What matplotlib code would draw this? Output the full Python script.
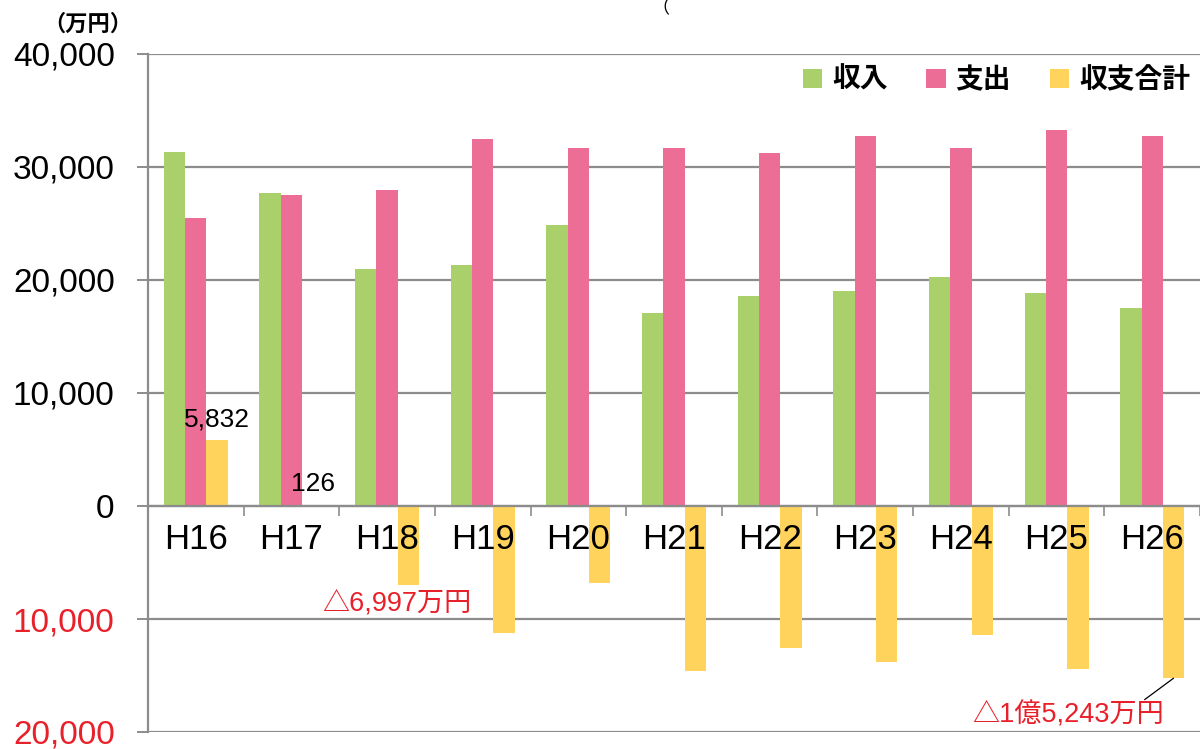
import numpy as np
import matplotlib
matplotlib.use("Agg")
import matplotlib.pyplot as plt
from matplotlib.ticker import FuncFormatter, FixedLocator

YEARS = ["H16", "H17", "H18", "H19", "H20", "H21", "H22", "H23", "H24", "H25", "H26"]
INCOME = [31300, 27680, 21010, 21300, 24870, 17120, 18620, 19000, 20270, 18820, 17520]
EXPENSE = [25468, 27554, 28007, 32520, 31650, 31680, 31230, 32770, 31670, 33280, 32763]
BALANCE = [5832, 126, -6997, -11220, -6780, -14560, -12610, -13770, -11400, -14460, -15243]
SERIES = ["収入", "支出", "収支合計"]
COLORS = ["#AAD06C", "#EC6D96", "#FFD35C"]
RED = "#E8202A"
GRID = "#8C8C8C"

LATIN = ["Liberation Sans", "Noto Sans CJK JP", "DejaVu Sans"]
CJK = ["Noto Sans CJK JP", "DejaVu Sans"]


def fmt(v, pos):
    return "{:,}".format(int(abs(round(v))))


def main():
    plt.rcParams["font.family"] = LATIN
    fig = plt.figure(figsize=(12, 7.49), dpi=100)
    ax = fig.add_axes([148 / 1200, 17 / 749, 1052 / 1200, 678 / 749])

    x = np.arange(len(YEARS))
    w = 0.223
    bars = []
    for i, vals in enumerate((INCOME, EXPENSE, BALANCE)):
        b = ax.bar(x + (i - 1) * w, vals, w, color=COLORS[i], label=SERIES[i],
                   zorder=2, linewidth=0)
        bars.append(b)

    ax.set_xlim(-0.5, len(YEARS) - 0.5)
    ax.set_ylim(-20000, 40000)
    ax.set_yticks(np.arange(-20000, 40001, 10000))
    ax.yaxis.set_major_formatter(FuncFormatter(fmt))
    ax.grid(True, axis="y", color=GRID, linewidth=1.6)
    ax.set_axisbelow(True)
    ax.xaxis.set_zorder(5)   # category labels sit on top of the bars

    for s in ("top", "right"):
        ax.spines[s].set_visible(False)
    ax.spines["left"].set_color(GRID)
    ax.spines["left"].set_linewidth(1.6)
    ax.spines["bottom"].set_position(("data", 0))
    ax.spines["bottom"].set_color(GRID)
    ax.spines["bottom"].set_linewidth(1.6)
    ax.spines["bottom"].set_zorder(3)

    ax.tick_params(axis="y", direction="out", length=8, width=1.4, color=GRID,
                   labelsize=24, pad=16)
    for lab, v in zip(ax.get_yticklabels(), ax.get_yticks()):
        lab.set_color(RED if v < 0 else "black")

    ax.set_xticks(x)
    ax.set_xticklabels(YEARS)
    ax.tick_params(axis="x", which="major", length=0, labelsize=25, pad=12)
    ax.xaxis.set_minor_locator(FixedLocator(np.arange(0.5, len(YEARS) - 0.4, 1)))
    ax.tick_params(axis="x", which="minor", direction="out", length=7, width=1.2,
                   color=GRID)

    # data labels
    ax.text(x[0] + w, BALANCE[0] + 800, "5,832", ha="center", va="bottom",
            fontsize=19)
    ax.text(x[1] + w, BALANCE[1] + 800, "126", ha="center", va="bottom",
            fontsize=19)
    ax.text(x[2] + 0.1, BALANCE[2] - 500, "△6,997万円", ha="center", va="top",
            fontsize=19.5, color=RED)
    ax.annotate("△1億5,243万円", xy=(x[10] + w, BALANCE[10]),
                xytext=(x[10] - 0.88, BALANCE[10] - 3300), ha="center",
                va="center", fontsize=19.5, color=RED,
                arrowprops=dict(arrowstyle="-", color="black", lw=0.9,
                                shrinkA=0, shrinkB=0, relpos=(0.88, 1.0)))

    fig.text(88 / 1200, 1 - 24 / 749, "（万円）", ha="center", va="center",
             fontsize=16, fontweight="bold", family=CJK)
    fig.text(660 / 1200, 1 - 8 / 749, "（", ha="center", va="center",
             fontsize=13, family=CJK)

    ax.legend(handles=bars, loc="center right", ncol=3, frameon=False,
              bbox_to_anchor=(1190 / 1200, 1 - 80 / 749),
              bbox_transform=fig.transFigure, handlelength=0.7,
              handleheight=0.7, handletextpad=0.35, columnspacing=1.4,
              borderpad=0, borderaxespad=0,
              prop=dict(family=CJK, size=20, weight="bold"))

    fig.savefig("out.png", dpi=100)


if __name__ == "__main__":
    main()
